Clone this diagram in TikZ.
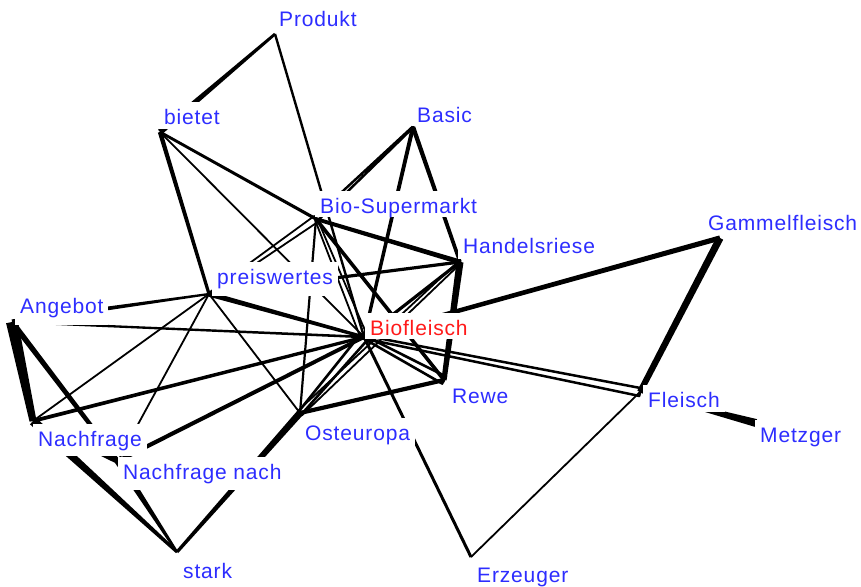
\documentclass[tikz,border=0pt]{standalone}
\usepackage{fontspec}
\setmainfont{Liberation Sans}[LetterSpace=4]
\usetikzlibrary{calc}
\definecolor{labblue}{RGB}{45,45,255}
\definecolor{labred}{RGB}{255,25,25}
\newcommand{\edgetap}[4]{\fill ($(#1)!#3!90:(#2)$) -- ($(#1)!#3!-90:(#2)$) -- ($(#2)!#4!90:(#1)$) -- ($(#2)!#4!-90:(#1)$) -- cycle;}
\newcommand{\edgehol}[5]{\draw[line width=#5, line join=round] ($(#1)!#3!90:(#2)$) -- ($(#1)!#3!-90:(#2)$) -- ($(#2)!#4!90:(#1)$) -- ($(#2)!#4!-90:(#1)$) -- cycle;}
\begin{document}
\begin{tikzpicture}[x=1pt,y=-1pt,
  lab/.style={font=\fontsize{21}{25}\selectfont, text=labblue, fill=white,
    inner xsep=5pt, inner ysep=0pt, text height=22pt, text depth=10pt, anchor=base west}]
\useasboundingbox (0,0) rectangle (861,586);
\fill[white] (0,0) rectangle (861,586);
% anchor points
\coordinate (P) at (275,34);
\coordinate (Bt) at (160,132);
\coordinate (Ba) at (413,127);
\coordinate (BS) at (316,219);
\coordinate (H) at (460,262);
\coordinate (G) at (720,238);
\coordinate (Pw) at (209,294);
\coordinate (A) at (12,322);
\coordinate (Bf) at (364,337);
\coordinate (R) at (444,380);
\coordinate (F) at (640,392);
\coordinate (M) at (756,423);
\coordinate (O) at (300,413);
\coordinate (N) at (33,421);
\coordinate (NN) at (118,461);
\coordinate (S) at (177,552);
\coordinate (E) at (471,557);
% edges
\edgetap{Bt}{P}{3pt}{1.4pt}
\edgetap{P}{Bf}{1.2pt}{1.2pt}
\edgetap{Bt}{BS}{1.4pt}{1.6pt}
\edgetap{Bt}{Bf}{0.9pt}{0.9pt}
\edgetap{Bt}{Pw}{2.2pt}{1.6pt}
\edgehol{Ba}{BS}{0.5pt}{2.3pt}{2.4pt}
\edgetap{Ba}{Bf}{2pt}{1.6pt}
\edgetap{Ba}{H}{2.2pt}{1.8pt}
\edgetap{BS}{H}{1.9pt}{2.5pt}
\edgetap{BS}{O}{1.1pt}{1.1pt}
\edgehol{BS}{Bf}{1.2pt}{3.5pt}{1.8pt}
\edgetap{BS}{R}{1.8pt}{1.8pt}
\edgehol{Pw}{BS}{1pt}{3.5pt}{1.8pt}
\edgetap{Pw}{H}{1.6pt}{1.6pt}
\edgetap{Pw}{Bf}{2.6pt}{1.6pt}
\edgetap{A}{Pw}{2.6pt}{1.1pt}
\edgetap{Pw}{N}{0.9pt}{0.9pt}
\edgetap{Pw}{NN}{0.9pt}{0.9pt}
\edgetap{Pw}{O}{0.9pt}{0.9pt}
\edgetap{A}{N}{6pt}{3.5pt}
\edgetap{A}{NN}{2.8pt}{2pt}
\edgetap{A}{Bf}{1.1pt}{1.3pt}
\edgetap{N}{Bf}{1.9pt}{1.6pt}
\edgetap{N}{S}{4.5pt}{1.5pt}
\edgetap{N}{NN}{1pt}{3pt}
\edgetap{NN}{S}{3.5pt}{1.2pt}
\edgetap{NN}{Bf}{2.1pt}{1.9pt}
\edgetap{O}{S}{3.5pt}{1.6pt}
\edgehol{O}{Bf}{2pt}{4.5pt}{2.6pt}
\edgetap{O}{R}{2.1pt}{2.1pt}
\edgehol{O}{H}{3pt}{1.5pt}{1.8pt}
\edgetap{H}{Bf}{1.6pt}{1.6pt}
\edgetap{H}{R}{3.5pt}{2.6pt}
\edgetap{G}{Bf}{2.6pt}{2.1pt}
\edgetap{G}{F}{3.6pt}{3pt}
\edgehol{Bf}{F}{1.5pt}{4pt}{2.5pt}
\edgehol{Bf}{R}{1.5pt}{4pt}{2.6pt}
\edgetap{Bf}{E}{1.5pt}{1.5pt}
\edgetap{F}{E}{0.9pt}{0.9pt}
\edgetap{F}{M}{0.6pt}{4pt}
% labels
\node[lab, text depth=5pt] (lP) at (274,27) {Produkt};
\node[lab, text depth=5pt] (lBt) at (159,124) {bietet};
\node[lab, text depth=4pt] (lBa) at (412,122) {Basic};
\node[lab, text depth=4pt] (lBS) at (315,213) {Bio-Supermarkt};
\node[lab, text depth=6pt] (lH) at (458,253) {Handelsriese};
\node[lab, text depth=5pt] (lG) at (703,230) {Gammelfleisch};
\node[lab, text depth=12pt] (lPw) at (212,284) {preiswertes};
\node[lab, text depth=12pt] (lA) at (15,313) {Angebot};
\node[lab, text=labred, text depth=4pt] (lBf) at (365,335) {Biofleisch};
\node[lab, text depth=6pt] (lR) at (447,403) {Rewe};
\node[lab, text depth=5pt] (lF) at (643,407) {Fleisch};
\node[lab, text depth=6pt] (lM) at (755,442) {Metzger};
\node[lab] (lO) at (300,440) {Osteuropa};
\node[lab] (lN) at (33,446) {Nachfrage};
\node[lab, text depth=11pt] (lNN) at (118,479) {Nachfrage nach};
\node[lab, text depth=6pt] (lS) at (178,578) {stark};
\node[lab, text depth=3pt] (lE) at (472,582) {Erzeuger};
\end{tikzpicture}
\end{document}
